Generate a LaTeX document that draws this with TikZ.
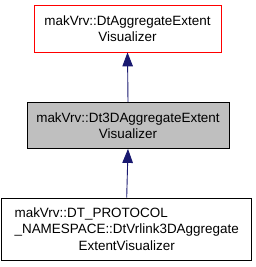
\documentclass[tikz,border=0pt]{standalone}
\usepackage{fontspec}
\setmainfont{Liberation Sans}
\usetikzlibrary{arrows.meta}
\definecolor{edgeblue}{HTML}{191970}
\begin{document}
\begin{tikzpicture}[x=1bp,y=1bp,
  cls/.style={draw, line width=0.8bp, inner sep=0pt, align=center,
    font=\fontsize{13.5}{16.5}\selectfont},
  inh/.style={draw=edgeblue, line width=0.9bp, -{Triangle[width=10.5bp,length=14bp,fill=edgeblue]}}]
\useasboundingbox (0,0) rectangle (256,-267);
\node[cls, draw=red, fill=white, minimum width=187bp, minimum height=47bp] (a) at (127.5,-28.5)
  {makVrv::DtAggregateExtent\\Visualizer};
\node[cls, draw=black, fill={rgb,255:red,191;green,191;blue,191}, minimum width=202bp, minimum height=46bp] (b) at (128,-125.5)
  {makVrv::Dt3DAggregateExtent\\Visualizer};
\node[cls, draw=black, fill=white, minimum width=250bp, minimum height=62bp] (c) at (126.7,-229)
  {\rlap{makVrv::DT\_PROTOCOL}\phantom{\_NAMESPACE::DtVrlink3DAggregate}\\\_NAMESPACE::DtVrlink3DAggregate\\ExtentVisualizer};
\draw[inh] (b.north) -- (a.south);
\draw[inh] (c.north) -- (b.south);
\end{tikzpicture}
\end{document}
